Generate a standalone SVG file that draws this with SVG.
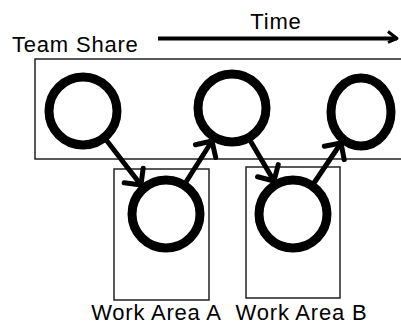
<svg xmlns="http://www.w3.org/2000/svg" width="401" height="325" viewBox="0 0 401 325">
<style>
.lbl{font-family:"Liberation Sans",Arial,sans-serif;font-size:22px;letter-spacing:0.8px;fill:#000}
.box{fill:none;stroke:#222;stroke-width:1.5}
.node{fill:#fff;stroke:#000;stroke-width:9}
.edge{fill:none;stroke:#000;stroke-width:5;stroke-linecap:round}
</style>
<defs>
<marker id="ah" markerUnits="userSpaceOnUse" viewBox="-16 -16 20 32" refX="0" refY="0" markerWidth="20" markerHeight="32" orient="auto" overflow="visible">
<path d="M-12,-12 L0,0 L-12,12" fill="none" stroke="#000" stroke-width="5" stroke-linecap="round" stroke-linejoin="round"/>
</marker>
<marker id="ta" markerUnits="userSpaceOnUse" viewBox="-12 -8 14 16" refX="0" refY="0" markerWidth="14" markerHeight="16" orient="auto" overflow="visible">
<path d="M-9,-7 L0,0 L-9,4" fill="none" stroke="#000" stroke-width="3" stroke-linejoin="round"/>
</marker>
</defs>
<g id="time">
<text class="lbl" x="276" y="29" text-anchor="middle">Time</text>
<line x1="158" y1="38.5" x2="397" y2="38.5" stroke="#000" stroke-width="4" marker-end="url(#ta)"/>
</g>
<g id="team-share">
<text class="lbl" x="12" y="52">Team Share</text>
<rect class="box" x="35" y="59" width="375" height="100"/>
</g>
<g id="work-area-a">
<rect class="box" x="114" y="169" width="95" height="131"/>
<text class="lbl" x="156.5" y="320" text-anchor="middle">Work Area A</text>
</g>
<g id="work-area-b">
<rect class="box" x="246" y="167" width="94" height="131"/>
<text class="lbl" x="301.5" y="320" text-anchor="middle">Work Area B</text>
</g>
<g id="connectors">
<line class="edge" x1="107" y1="141" x2="141" y2="185" marker-end="url(#ah)"/>
<line class="edge" x1="186" y1="182" x2="212" y2="141" marker-end="url(#ah)"/>
<line class="edge" x1="251" y1="142" x2="274" y2="181" marker-end="url(#ah)"/>
<line class="edge" x1="314" y1="183" x2="341" y2="143" marker-end="url(#ah)"/>
</g>
<g id="n1"><circle class="node" cx="83" cy="111" r="34"/></g>
<g id="n2"><circle class="node" cx="232" cy="108" r="34"/></g>
<g id="n3"><ellipse class="node" cx="361" cy="112" rx="30" ry="34"/></g>
<g id="nA"><circle class="node" cx="166" cy="214" r="34"/></g>
<g id="nB"><circle class="node" cx="293" cy="214" r="34"/></g>
</svg>
